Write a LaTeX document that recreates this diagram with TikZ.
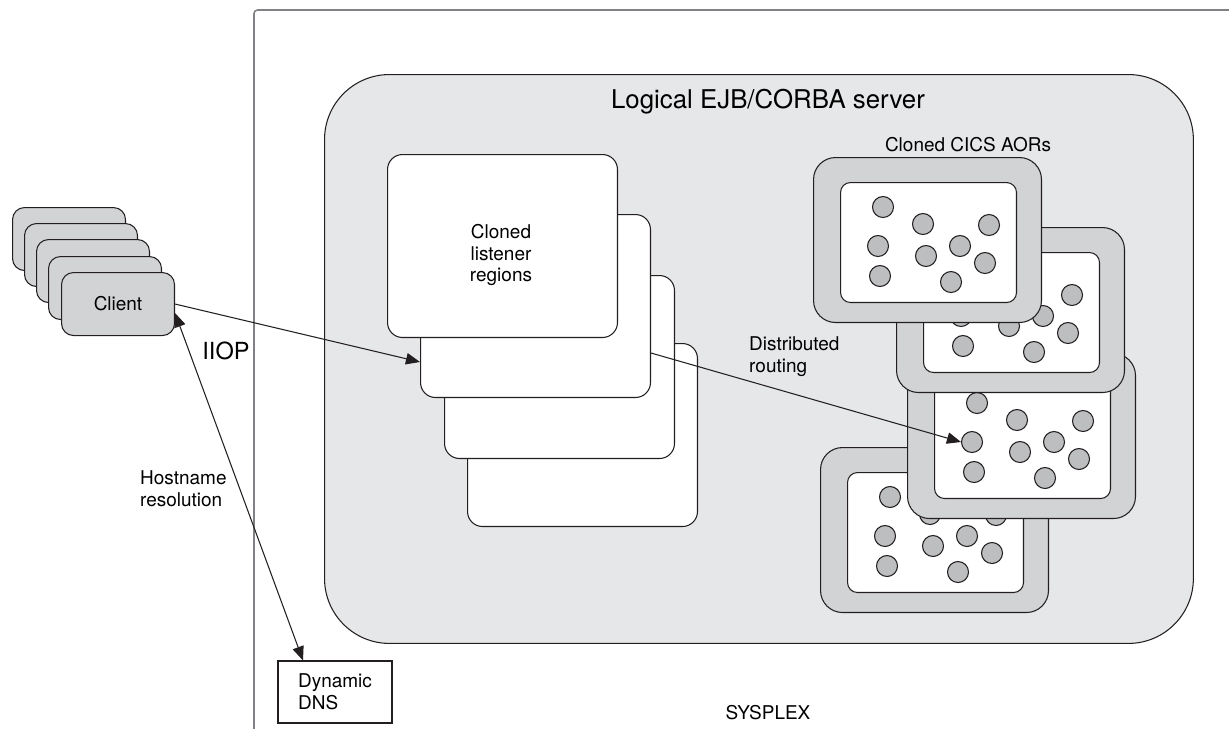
\documentclass[tikz,border=0pt]{standalone}
\usepackage{fontspec}
\setmainfont{TeX Gyre Heros}
\usetikzlibrary{arrows.meta}
\definecolor{serverFill}{HTML}{E6E7E8}
\definecolor{boxGray}{HTML}{D1D3D4}
\definecolor{dotGray}{HTML}{BCBEC0}
\definecolor{inkDark}{HTML}{231F20}
\definecolor{sysplexGray}{HTML}{808285}
\tikzset{
  clientBox/.style={draw=inkDark,fill=boxGray,line width=0.6pt,rounded corners=0.24cm,
    minimum width=2.26cm,minimum height=1.26cm,inner sep=0pt,anchor=north west},
  listenerBox/.style={draw=inkDark,fill=white,line width=0.6pt,rounded corners=0.3cm,
    minimum width=4.6cm,minimum height=3.66cm,inner sep=0pt,anchor=north west},
  aorOuter/.style={draw=inkDark,fill=boxGray,line width=0.6pt,rounded corners=0.44cm,
    minimum width=4.56cm,minimum height=3.3cm,inner sep=0pt,anchor=north west},
  aorInner/.style={draw=inkDark,fill=white,line width=0.6pt,rounded corners=0.2cm,
    minimum width=3.52cm,minimum height=2.4cm,inner sep=0pt,anchor=north west},
  aorDot/.style={circle,draw=inkDark,fill=dotGray,line width=0.6pt,minimum size=0.42cm,inner sep=0pt},
  link/.style={draw=inkDark,line width=0.6pt,-{Triangle[length=8pt,width=6.5pt]}},
}
\NewDocumentCommand\DrawAor{mmm}%
{%
\node[aorOuter] (aor#1) at (#2,#3) {};%
\node[aorInner] (aor#1in) at ({#2+27},{#3+25}) {};%
\foreach \dx/\dy [count=\k] in {70/50,110/67,176/68,65/89,147/89,113/99,172/106,67/119,138/125}
  \node[aorDot] (aor#1d\k) at ({#2+\dx},{#3+\dy}) {};%
}

\begin{document}
\begin{tikzpicture}[x=0.02cm,y=-0.02cm,font=\fontsize{10.8}{12.5}\selectfont]
\useasboundingbox (0,0) rectangle (1229,728);
% sysplex frame, open at right and bottom
\draw[sysplexGray,line width=0.9pt,rounded corners=2pt] (254,745) |- (1245,10);
\node (sysplex) at (768,713) {SYSPLEX};
% logical server
\node[draw=inkDark,fill=serverFill,line width=0.6pt,rounded corners=1.3cm,
  minimum width=17.38cm,minimum height=11.38cm,anchor=north west] (server) at (324,74) {};
\node[font=\fontsize{14.7}{17}\selectfont] (serverTitle) at (768,102) {Logical EJB/CORBA server};
% listener regions
\node[listenerBox] (lis4) at (467,343) {};
\node[listenerBox] (lis3) at (444,275) {};
\node[listenerBox] (lis2) at (420,214) {};
\node[listenerBox] (lis1) at (387,154) {};
\node[align=center] (lisText) at (501,255) {Cloned\\listener\\regions};
% CICS AORs
\node (aorTitle) at (968,145) {Cloned CICS AORs};
\DrawAor{4}{820}{447}
\DrawAor{3}{907}{353}
\DrawAor{2}{896}{227}
\DrawAor{1}{813}{157}
% clients
\node[clientBox] (cli1) at (12,207) {};
\node[clientBox] (cli2) at (24,223) {};
\node[clientBox] (cli3) at (36,239) {};
\node[clientBox] (cli4) at (48,256) {};
\node[clientBox] (cli5) at (61,272) {Client};
% dns
\node[draw=inkDark,line width=0.6pt,align=left,minimum width=2.28cm,minimum height=1.24cm]
  (dns) at (335,692) {Dynamic\\DNS};
% labels
\node[font=\fontsize{13.4}{16}\selectfont] (iiop) at (226,351) {IIOP};
\node[anchor=west,align=left] (hostLabel) at (134,489) {Hostname\\resolution};
\node[anchor=west,align=left] (routeLabel) at (743,357) {Distributed\\routing};
% connectors
\draw[link] (cli5.east) -- ([yshift=-1.12cm]lis2.west);
\draw[link,{Triangle[length=8pt,width=6.5pt]}-{Triangle[length=8pt,width=6.5pt]}]
  ([yshift=-0.18cm]cli5.east) -- ([xshift=-0.64cm]dns.north);
\draw[link] ([yshift=-0.94cm]lis2.east) -- (aor3d4.west);
\end{tikzpicture}
\end{document}
